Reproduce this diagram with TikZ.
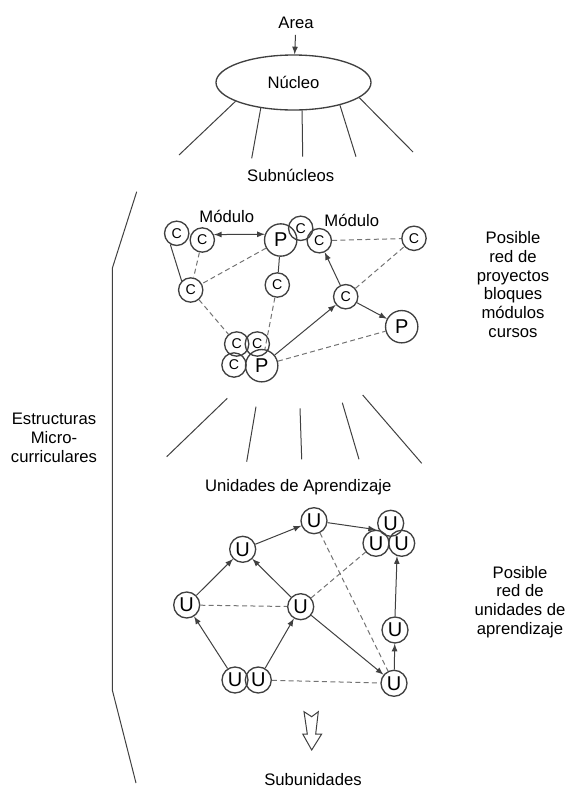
\documentclass[tikz,border=0pt]{standalone}
\usepackage{fontspec}
\setmainfont{Liberation Sans}
\usetikzlibrary{arrows,shapes.geometric}
\tikzset{
  curso/.style={circle,draw,inner sep=0pt,minimum size=14.6pt,font=\fontsize{8.5}{8.5}\selectfont},
  proy/.style={circle,draw,inner sep=0pt,minimum size=19.4pt,font=\fontsize{12}{12}\selectfont},
  unid/.style={circle,draw,inner sep=0pt,minimum size=15.6pt,font=\fontsize{12}{12}\selectfont},
  punteado/.style={dash pattern=on 3pt off 2pt,black!55},
  texto/.style={align=center,font=\fontsize{10}{11.3}\selectfont},
}

\begin{document}
\begin{tikzpicture}[x=0.6pt,y=-0.6pt,>=latex,line width=0.6pt,draw=black!75]
  \useasboundingbox (0,0) rectangle (568,788);
  % nucleo y subnucleos
  \node[texto] (area) at (296,23) {Area};
  \node[ellipse,draw,line width=0.8pt,minimum width=93pt,minimum height=33pt,texto] (nucleo) at (293.5,82.5) {Núcleo};
  \draw[->] (area) -- (nucleo);
  \foreach \a/\x/\y in {198/179/155, 218/251.7/158.3, 287/302.7/156.7, 334/356/156.7, 347/413/152}
    \draw (nucleo.\a) -- (\x,\y);
  \node[texto] (subnucleos) at (290.7,175) {Subnúcleos};

  % red de proyectos
  \begin{scope}[line width=0.8pt]
    \node[curso] (c1) at (176.7,233.3) {C};
    \node[curso] (c2) at (202.3,240) {C};
    \node[proy] (p1) at (280.7,240) {P};
    \node[curso] (c3) at (300.7,228.3) {C};
    \node[curso] (c4) at (319.3,240.7) {C};
    \node[curso] (c5) at (414,238.3) {C};
    \node[curso] (c6) at (190.7,290) {C};
    \node[curso] (c7) at (277.3,285) {C};
    \node[curso] (c8) at (345.7,296.7) {C};
    \node[proy] (p2) at (401.7,326.7) {P};
    \node[curso] (c9) at (236.7,344) {C};
    \node[curso] (c10) at (257.3,344) {C};
    \node[curso] (c11) at (234,365) {C};
    \node[proy] (p3) at (261.7,365.7) {P};
  \end{scope}
  \node[texto] (mod1) at (226.7,216) {Módulo};
  \node[texto] (mod2) at (351.7,220) {Módulo};
  \draw (c1.240) -- (c6.135);
  \draw[<->] (c2.25) -- (p1.160);
  \draw (p1) -- (c7);
  \draw[->] (c8) -- (c4);
  \draw[->] (c8) -- (p2);
  \draw[->] (p3) -- (c8);
  \draw[punteado] (c2) -- (c6);
  \draw[punteado] (p1) -- (c6);
  \draw[punteado] (c4) -- (c5);
  \draw[punteado] (c8) -- (c5);
  \draw[punteado] (p3) -- (p2);
  \draw[punteado] (c6) -- (c9);
  \draw[punteado] (c7) -- (p3);
  \node[texto] (red1) at (513,284.5) {Posible\\red de\\proyectos\\bloques\\módulos\\cursos};

  % unidades de aprendizaje
  \foreach \x/\y/\xx/\yy in {227.3/398.3/166.7/456.7, 256/406.7/246.7/461.7, 300/408.3/301.7/459.3, 342.3/402.7/359/459.3, 362.7/395/421.7/463.3}
    \draw (\x,\y) -- (\xx,\yy);
  \node[texto] (unidades) at (298.3,486.7) {Unidades de Aprendizaje};
  \begin{scope}[line width=0.8pt]
    \node[unid] (u1) at (314,520.7) {U};
    \node[unid] (u2) at (242.7,549.3) {U};
    \node[unid] (u3) at (390.7,523.3) {U};
    \node[unid] (u4) at (376,543.3) {U};
    \node[unid] (u5) at (401.7,543.3) {U};
    \node[unid] (u6) at (186.7,605) {U};
    \node[unid] (u7) at (300.7,606.7) {U};
    \node[unid] (u8) at (395,630) {U};
    \node[unid] (u9) at (235,680) {U};
    \node[unid] (u10) at (258.3,680) {U};
    \node[unid] (u11) at (394,683.3) {U};
  \end{scope}
  \draw[->] (u2) -- (u1);
  \draw[->] (u1) -- (u4.north);
  \draw[->] (u6) -- (u2);
  \draw[->] (u7) -- (u2);
  \draw[->] (u9) -- (u6);
  \draw[->] (u10) -- (u7);
  \draw[->] (u7) -- (u11);
  \draw[->] (u11) -- (u8);
  \draw[->] (u8.north) -- (u5.250);
  \draw[punteado] (u6) -- (u7);
  \draw[punteado] (u7) -- (u4);
  \draw[punteado] (u1) -- (u11);
  \draw[punteado] (u10) -- (u11);
  \node[texto] (red2) at (520,602) {Posible\\red de\\unidades de\\aprendizaje};

  % llave y subunidades
  \draw (136.7,191.7) -- (112.3,268.3) -- (112.3,690) -- (136,783);
  \node[texto] (estructuras) at (54,438) {Estructuras\\Micro-\\curriculares};
  \draw (304,711.7) -- (311.7,716.7) -- (318.3,711.7) -- (315.7,734) -- (321.7,734)
    -- (311.7,750) -- (302.7,734) -- (307.3,734) -- cycle;
  \node[texto] (subunidades) at (313,780) {Subunidades};
\end{tikzpicture}
\end{document}
